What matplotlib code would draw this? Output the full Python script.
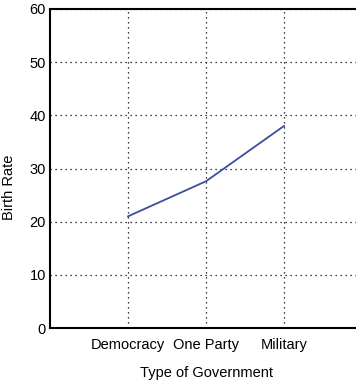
import matplotlib
matplotlib.use("Agg")
import matplotlib.pyplot as plt

plt.rcParams["font.family"] = ["Liberation Sans", "DejaVu Sans"]

categories = ["Democracy", "One Party", "Military"]
birth_rate = [21, 27.6, 38]
y_ticks = [0, 10, 20, 30, 40, 50, 60]

fig = plt.figure(figsize=(3.56, 3.82), dpi=100)
ax = fig.add_axes([50 / 356, 54 / 382, 312 / 356, 319 / 382])

xs = list(range(1, len(categories) + 1))
ax.plot(xs, birth_rate, color="#3b4e9e", linewidth=1.3, zorder=3)

ax.set_xlim(0, 4)
ax.set_ylim(0, 60)
ax.set_xticks(xs)
ax.set_xticklabels(categories)
ax.set_yticks(y_ticks)
ax.tick_params(length=0, labelsize=10.5)
ax.tick_params(axis="x", pad=7)
ax.tick_params(axis="y", pad=3)
ax.grid(True, linestyle=(0, (1, 3)), color="black", linewidth=0.9)

for side in ("left", "top", "bottom"):
    ax.spines[side].set_linewidth(1.5)
ax.spines["right"].set_visible(False)

ax.set_xlabel("Type of Government", fontsize=10.5, labelpad=10)
ax.set_ylabel("Birth Rate", fontsize=10.5)
ax.yaxis.set_label_coords(-0.108, 0.44)

fig.savefig("out.png", dpi=100)
